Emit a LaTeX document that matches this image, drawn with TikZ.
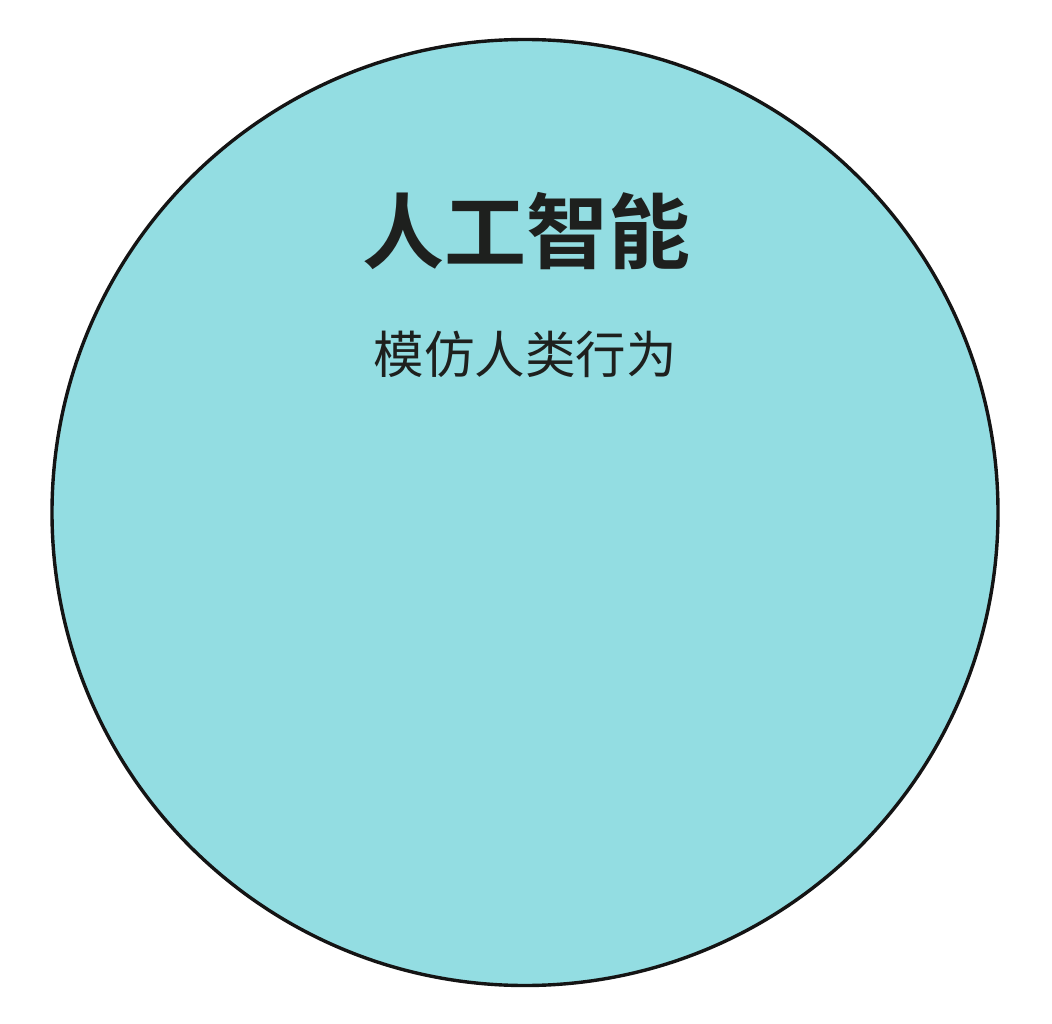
\documentclass[tikz,border=0pt]{standalone}
\usepackage{fontspec}
\newfontfamily\cjk{Noto Sans CJK SC}
\newfontfamily\cjkbold{Noto Sans CJK SC Bold}
\definecolor{circfill}{RGB}{147,221,226}
\definecolor{inktext}{RGB}{30,32,30}
\begin{document}
\begin{tikzpicture}[x=1pt,y=-1pt,
  titletext/.style={font=\cjkbold\fontsize{82}{92}\selectfont, text=inktext, inner sep=0pt},
  subtext/.style={font=\cjk\fontsize{50.5}{60}\selectfont, text=inktext, inner sep=0pt}]
\useasboundingbox (0,0) rectangle (1052,1024);
\node[circle, draw=black!92, line width=3.4pt, fill=circfill, minimum size=946pt, inner sep=0pt] (ai) at (525,512.5) {};
\node[titletext] (title) at (526.5,231) {人工智能};
\node[subtext] (sub) at (525,354) {模仿人类行为};
\end{tikzpicture}
\end{document}
